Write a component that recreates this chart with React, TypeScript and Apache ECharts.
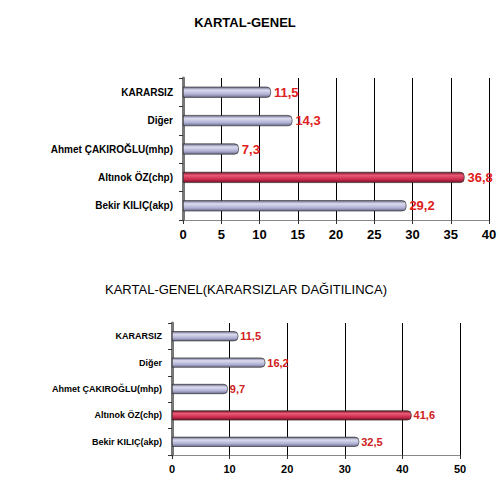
import { useEffect, useRef } from 'react';
import * as echarts from 'echarts';

// Candidates, bottom row first (ECharts category axis goes bottom-up)
const candidates = ['Bekir KILIÇ(akp)', 'Altınok ÖZ(chp)', 'Ahmet ÇAKIROĞLU(mhp)', 'Diğer', 'KARARSIZ'];
const generalValues = [29.2, 36.8, 7.3, 14.3, 11.5];
const redistributedValues = [32.5, 41.6, 9.7, 16.2, 11.5];
const highlighted = 'Altınok ÖZ(chp)';

const topTitle = 'KARTAL-GENEL';
const bottomTitle = 'KARTAL-GENEL(KARARSIZLAR DAĞITILINCA)';

// Cylinder-like shading for the bars
const cylinder = (light: string, mid: string, dark: string) =>
    new echarts.graphic.LinearGradient(0, 0, 0, 1, [
        { offset: 0, color: dark },
        { offset: 0.3, color: light },
        { offset: 0.7, color: mid },
        { offset: 1, color: dark },
    ]);

const greyBar = cylinder('#dcdcf0', '#b0b0d4', '#6a6a88');
const redBar = cylinder('#ea5a76', '#c82a4c', '#701222');

const App = () => {
    const chartRef = useRef<HTMLDivElement>(null);

    useEffect(() => {
        if (!chartRef.current) return;
        const chart = echarts.init(chartRef.current, undefined, { renderer: 'svg' });

        const font = 'Liberation Sans, Arial, sans-serif';

        const valueAxis = (gridIndex: number, max: number, interval: number, size: number) => ({
            type: 'value',
            gridIndex,
            min: 0,
            max,
            interval,
            axisLine: { show: true, lineStyle: { color: '#888', width: 1 } },
            axisTick: { show: true, length: 4, lineStyle: { color: '#333' } },
            splitLine: { show: true, lineStyle: { color: '#000', width: 1 } },
            axisLabel: { color: '#000', fontWeight: 'bold', fontSize: size, fontFamily: font, margin: 8 },
        });

        const categoryAxis = (gridIndex: number, size: number) => ({
            type: 'category',
            gridIndex,
            data: candidates,
            axisLine: { show: true, lineStyle: { color: '#777', width: 3 } },
            axisTick: { show: true, length: 4, lineStyle: { color: '#333' } },
            axisLabel: { color: '#000', fontWeight: 'bold', fontSize: size, fontFamily: font, margin: 10 },
        });

        const barData = (values: number[]) =>
            values.map((v, i) => ({
                value: v,
                itemStyle: {
                    color: candidates[i] === highlighted ? redBar : greyBar,
                    borderColor: '#222',
                    borderWidth: 0.6,
                    borderRadius: [0, 4, 4, 0],
                },
            }));

        chart.setOption({
            animation: false,
            backgroundColor: '#fff',
            title: [
                {
                    text: topTitle,
                    left: 240,
                    top: 11,
                    textAlign: 'center',
                    textStyle: { fontSize: 13, fontWeight: 'bold', color: '#000', fontFamily: font },
                },
                {
                    text: bottomTitle,
                    left: 241,
                    top: 278,
                    textAlign: 'center',
                    textStyle: { fontSize: 13, fontWeight: 'normal', color: '#000', fontFamily: font },
                },
            ],
            grid: [
                { left: 183, top: 78, width: 306, height: 142 },
                { left: 172, top: 323, width: 288, height: 132 },
            ],
            xAxis: [valueAxis(0, 40, 5, 13), valueAxis(1, 50, 10, 11)],
            yAxis: [categoryAxis(0, 10), categoryAxis(1, 9)],
            series: [
                {
                    type: 'bar',
                    xAxisIndex: 0,
                    yAxisIndex: 0,
                    data: barData(generalValues),
                    barWidth: 11,
                    label: {
                        show: true,
                        position: 'right',
                        distance: 3,
                        color: '#e02020',
                        fontWeight: 'bold',
                        fontSize: 13,
                        fontFamily: font,
                        formatter: (p: any) => String(p.value).replace('.', ','),
                    },
                },
                {
                    type: 'bar',
                    xAxisIndex: 1,
                    yAxisIndex: 1,
                    data: barData(redistributedValues),
                    barWidth: 10,
                    label: {
                        show: true,
                        position: 'right',
                        distance: 2,
                        color: '#d02020',
                        fontWeight: 'bold',
                        fontSize: 11,
                        fontFamily: font,
                        formatter: (p: any) => String(p.value).replace('.', ','),
                    },
                },
            ],
        });

        return () => chart.dispose();
    }, []);

    return (
        <div
            ref={chartRef}
            style={{ position: 'absolute', left: 0, top: 0, width: 500, height: 498 }}
        />
    );
};

export default App;
